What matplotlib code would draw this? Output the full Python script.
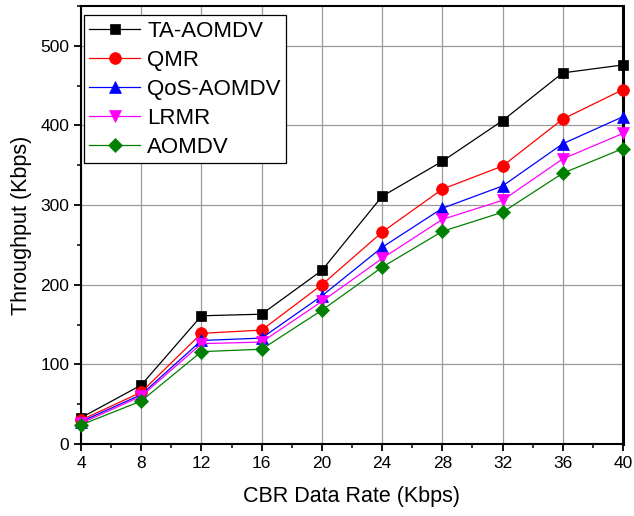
import matplotlib
matplotlib.use("Agg")
import matplotlib.pyplot as plt
from matplotlib.ticker import MultipleLocator

plt.rcParams['font.family'] = ['Liberation Sans', 'DejaVu Sans']

rates = [4, 8, 12, 16, 20, 24, 28, 32, 36, 40]
ta_aomdv = [33, 74, 161, 163, 218, 311, 355, 406, 466, 476]
qmr = [30, 65, 139, 143, 200, 266, 320, 349, 408, 445]
qos_aomdv = [28, 62, 130, 133, 186, 247, 296, 324, 377, 411]
lrmr = [26, 60, 126, 128, 179, 233, 282, 306, 358, 390]
aomdv = [24, 54, 116, 119, 168, 222, 267, 291, 340, 371]

series = [
    ("TA-AOMDV", ta_aomdv, "black", "s", 7.5),
    ("QMR", qmr, "red", "o", 8.5),
    ("QoS-AOMDV", qos_aomdv, "blue", "^", 8.5),
    ("LRMR", lrmr, "magenta", "v", 8.5),
    ("AOMDV", aomdv, "green", "D", 7.0),
]

fig = plt.figure(figsize=(6.34, 5.16), dpi=100)
ax = fig.add_axes([0.1278, 0.1395, 0.8548, 0.8489])

for name, vals, col, mk, ms in series:
    ax.plot(rates, vals, color=col, marker=mk, markersize=ms, linewidth=0.9,
            label=name, markeredgewidth=0.5, markeredgecolor=col, clip_on=False, zorder=3)

ax.set_xlim(4, 40)
ax.set_ylim(0, 550)
ax.set_xticks(rates)
ax.set_yticks([0, 100, 200, 300, 400, 500])
ax.xaxis.set_minor_locator(MultipleLocator(2))
ax.yaxis.set_minor_locator(MultipleLocator(50))
ax.tick_params(which='major', direction='out', length=5, width=1.3, labelsize=12.5, colors='black')
ax.tick_params(which='minor', direction='out', length=3, width=1.1)
ax.grid(True, which='major', color='#9a9a9a', linewidth=0.9)
ax.set_axisbelow(True)

for side in ['left', 'bottom', 'top']:
    ax.spines[side].set_linewidth(1.5)
ax.spines['right'].set_linewidth(2.2)

ax.set_xlabel("CBR Data Rate (Kbps)", fontsize=15.5, labelpad=11)
ax.set_ylabel("Throughput (Kbps)", fontsize=15.5, labelpad=6)

leg = ax.legend(loc='upper left', fontsize=16, frameon=True, fancybox=False,
                edgecolor='black', framealpha=1, handlelength=2.3, borderpad=0.25,
                labelspacing=0.36, handletextpad=0.3, borderaxespad=0.12,
                bbox_to_anchor=(0.0, 0.985))
leg.get_frame().set_linewidth(0.9)

fig.savefig("out.png", dpi=100)
